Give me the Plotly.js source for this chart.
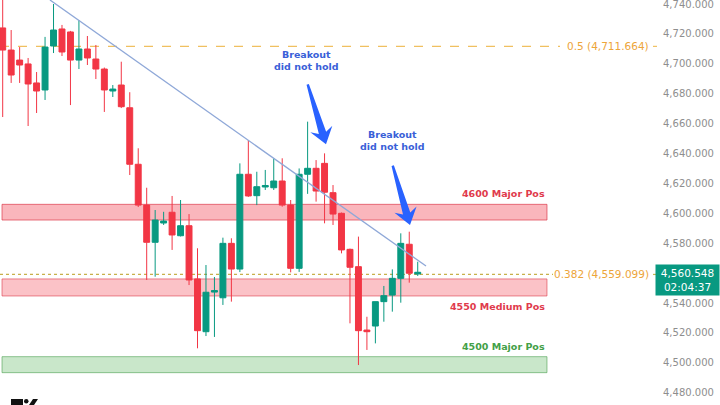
<!DOCTYPE html>
<html><head><meta charset="utf-8">
<script src="https://cdn.plot.ly/plotly-3.0.1.min.js"></script>
<style>html,body{margin:0;padding:0;background:#fff;}#chart{width:720px;height:405px;}</style>
</head><body><div id="chart"></div>
<script>
// ---- data ----
const opens  = [4724.0,4709.2,4702.5,4699.9,4687.2,4682.5,4711.9,4723.3,4721.3,4702.5,4709.9,4703.2,4696.5,4681.8,4685.8,4670.6,4632.8,4605.5,4580.6,4593.5,4600.7,4585.0,4591.7,4556.1,4520.8,4547.3,4543.5,4579.9,4562.7,4626.1,4611.8,4617.6,4617.1,4621.6,4605.5,4563.2,4626.1,4630.1,4633.4,4613.8,4600.0,4575.9,4564.3,4521.9,4524.6,4540.9,4545.3,4556.5,4579.3,4559.4];
const highs  = [4748.0,4722.6,4711.2,4703.9,4694.5,4718.0,4740.0,4726.0,4722.0,4729.3,4718.6,4712.6,4697.5,4685.8,4701.4,4681.0,4643.5,4617.1,4602.2,4601.0,4611.6,4608.9,4599.5,4576.6,4565.4,4557.4,4583.7,4583.3,4633.4,4649.0,4627.8,4629.0,4636.8,4636.8,4608.9,4630.0,4661.3,4635.6,4640.1,4618.9,4600.5,4576.4,4584.4,4530.8,4540.9,4551.4,4562.5,4586.6,4587.7,4567.6];
const lows   = [4664.4,4687.2,4687.2,4658.4,4667.1,4675.8,4707.2,4705.2,4672.4,4696.5,4699.2,4689.8,4667.8,4677.8,4670.4,4625.6,4604.2,4555.4,4557.6,4592.2,4575.5,4584.5,4552.0,4509.7,4517.9,4517.3,4538.7,4540.9,4560.7,4611.0,4605.5,4615.6,4615.6,4604.4,4560.5,4560.8,4613.0,4607.8,4593.3,4592.2,4573.2,4526.4,4498.5,4508.6,4513.0,4527.5,4534.2,4540.2,4553.6,4558.1];
const closes = [4709.2,4692.5,4699.2,4686.5,4681.8,4711.2,4722.6,4707.9,4702.5,4709.9,4703.9,4696.5,4682.5,4683.1,4671.3,4632.8,4605.5,4580.6,4595.5,4594.8,4585.5,4591.7,4555.4,4521.5,4547.2,4548.3,4579.9,4562.7,4626.1,4611.6,4617.8,4618.6,4621.6,4605.5,4563.2,4626.1,4630.1,4614.9,4614.1,4599.5,4575.5,4563.9,4521.5,4520.8,4540.9,4544.9,4556.5,4579.9,4559.9,4560.548];
const candleIdx = opens.map((_, i) => i);

const zoneNames   = ['4600 Major Pos', '4550 Medium Pos', '4500 Major Pos'];
const zoneTops    = [4606.0, 4556.1, 4504.1];
const zoneBottoms = [4595.5, 4544.7, 4493.4];

const fibLevels = [0.5, 0.382];
const fibPrices = [4711.664, 4559.099];

const trendX = [5.58, 49.98];
const trendY = [4742.7, 4564.7];

const noteText = ['Breakout', 'did not hold'];
const clockText = '02:04:37';

const yTickVals = [4480,4500,4520,4540,4580,4600,4620,4640,4660,4680,4700,4720,4740];

// ---- geometry ----
const W = 720, H = 405, R = 63, plotW = W - R;
const fmt = v => v.toLocaleString('en-US', {minimumFractionDigits:3, maximumFractionDigits:3});
const px2paperX = x => x / plotW;
const px2paperY = y => 1 - y / H;

function arrowPath(tx, ty, px, py) {
  const dx = px - tx, dy = py - ty, L = Math.hypot(dx, dy);
  const ux = dx / L, uy = dy / L, nx = -uy, ny = ux;
  const pt = (a, b) => [tx + ux * a + nx * b, ty + uy * a + ny * b];
  const pts = [pt(0, -1.2), pt(0, 1.2), pt(L - 12, 3.8), pt(L - 16, 11.5), pt(L, 0), pt(L - 16, -11.5), pt(L - 12, -3.8)];
  return 'M' + pts.map(p => px2paperX(p[0]).toFixed(5) + ',' + px2paperY(p[1]).toFixed(5)).join('L') + 'Z';
}

const GREEN = '#089981', RED = '#f23645';

const traces = [
  {
    type: 'candlestick', x: candleIdx, open: opens, high: highs, low: lows, close: closes,
    increasing: {line: {color: GREEN, width: 1}, fillcolor: GREEN},
    decreasing: {line: {color: RED, width: 1}, fillcolor: RED},
    whiskerwidth: 0, hoverinfo: 'skip', showlegend: false
  },
  {
    type: 'scatter', mode: 'lines', x: trendX, y: trendY,
    line: {color: '#8fa8d8', width: 1.3}, hoverinfo: 'skip', showlegend: false
  }
];

const zoneFill = ['rgba(242,54,69,0.36)', 'rgba(242,54,69,0.30)', 'rgba(76,175,80,0.30)'];
const zoneLine = ['rgba(220,60,75,0.7)', 'rgba(220,60,75,0.6)', 'rgba(76,160,80,0.6)'];
const zoneTextColor = ['#e03a4c', '#e03a4c', '#43a047'];

const shapes = [];
const annotations = [];
const zoneX0 = -0.08, zoneX1 = 64.26;
zoneNames.forEach((name, i) => {
  shapes.push({type: 'rect', xref: 'x', yref: 'y', x0: zoneX0, x1: zoneX1, y0: zoneBottoms[i], y1: zoneTops[i],
    fillcolor: zoneFill[i], line: {color: zoneLine[i], width: 1}, layer: 'below'});
  const above = i !== 1;
  annotations.push({xref: 'x', yref: 'y', x: zoneX1, xanchor: 'right',
    y: above ? zoneTops[i] : zoneBottoms[i], yanchor: above ? 'bottom' : 'top', yshift: above ? 3 : -3,
    text: '<b>' + name + '</b>', showarrow: false,
    font: {family: 'DejaVu Sans', size: 9.5, color: zoneTextColor[i]}});
});

// fib lines
const fibDash = ['dash', 'dot'];
const fibLineColor = ['#f0c060', '#c8b04a'];
const fibLineEnd = [560, 553];
fibLevels.forEach((lv, i) => {
  shapes.push({type: 'line', xref: 'paper', yref: 'y', x0: 0, x1: px2paperX(fibLineEnd[i]), y0: fibPrices[i], y1: fibPrices[i],
    line: {color: fibLineColor[i], width: 1.2, dash: fibDash[i]}, layer: 'below'});
  shapes.push({type: 'line', xref: 'paper', yref: 'y', x0: px2paperX(653), x1: px2paperX(657), y0: fibPrices[i], y1: fibPrices[i],
    line: {color: fibLineColor[i], width: 1.2}, layer: 'below'});
  annotations.push({xref: 'paper', yref: 'y', x: px2paperX(651), xanchor: 'right', y: fibPrices[i], yanchor: 'middle',
    text: lv + ' (' + fmt(fibPrices[i]) + ')', showarrow: false,
    font: {family: 'DejaVu Sans', size: 10.5, color: '#eda53a'}});
});

// breakout notes + arrows
const notePos = [[35.9, 4702.5], [46.08, 4648.4]];
notePos.forEach(p => {
  annotations.push({xref: 'x', yref: 'y', x: p[0], y: p[1], xanchor: 'center', yanchor: 'middle',
    text: '<b>' + noteText[0] + '</b><br><b>' + noteText[1] + '</b>', showarrow: false, align: 'center',
    font: {family: 'DejaVu Sans', size: 9.5, color: '#3a5fd8'}});
});
[[307.7, 84.3, 326, 144.3], [392.7, 165.7, 410, 225]].forEach(a => {
  shapes.push({type: 'path', xref: 'paper', yref: 'paper', path: arrowPath(a[0], a[1], a[2], a[3]),
    fillcolor: '#2962ff', line: {width: 0}, layer: 'above'});
});

// last price label
const lastClose = closes[closes.length - 1];
annotations.push({xref: 'paper', yref: 'y', x: px2paperX(655), xanchor: 'left', y: lastClose, yanchor: 'top', yshift: 8,
  text: fmt(lastClose) + '<br>' + clockText, showarrow: false, align: 'center', bgcolor: GREEN,
  width: 57, height: 24, borderpad: 3, font: {family: 'DejaVu Sans', size: 10.5, color: '#ffffff'}});

// TV logo
shapes.push({type: 'rect', xref: 'paper', yref: 'paper', x0: px2paperX(11), x1: px2paperX(23), y0: px2paperY(405), y1: px2paperY(399), fillcolor: '#111', line: {width: 0}});
shapes.push({type: 'circle', xref: 'paper', yref: 'paper', x0: px2paperX(24), x1: px2paperX(28.5), y0: px2paperY(403.5), y1: px2paperY(399), fillcolor: '#111', line: {width: 0}});
shapes.push({type: 'path', xref: 'paper', yref: 'paper', path: 'M' + px2paperX(29) + ',' + px2paperY(405) + 'L' + px2paperX(33) + ',' + px2paperY(399) + 'L' + px2paperX(38) + ',' + px2paperY(399) + 'L' + px2paperX(34) + ',' + px2paperY(405) + 'Z', fillcolor: '#111', line: {width: 0}});

const layout = {
  width: W, height: H, margin: {l: 0, r: R, t: 0, b: 0, pad: 0},
  paper_bgcolor: '#ffffff', plot_bgcolor: '#ffffff', showlegend: false,
  boxgap: 0.3, boxgroupgap: 0,
  xaxis: {range: [-0.319, 77.25], showgrid: false, zeroline: false, showticklabels: false, showline: false,
    rangeslider: {visible: false}, fixedrange: true},
  yaxis: {side: 'right', range: [4471.77, 4742.68], tickvals: yTickVals, ticktext: yTickVals.map(fmt),
    showgrid: false, zeroline: false, showline: false, ticks: '', ticklabelstandoff: 5, ticklabeloverflow: 'allow',
    tickfont: {family: 'DejaVu Sans', size: 10, color: '#8e8e8e'}, fixedrange: true},
  shapes: shapes, annotations: annotations, hovermode: false
};

Plotly.newPlot('chart', traces, layout, {displayModeBar: false, staticPlot: true});
</script></body></html>
